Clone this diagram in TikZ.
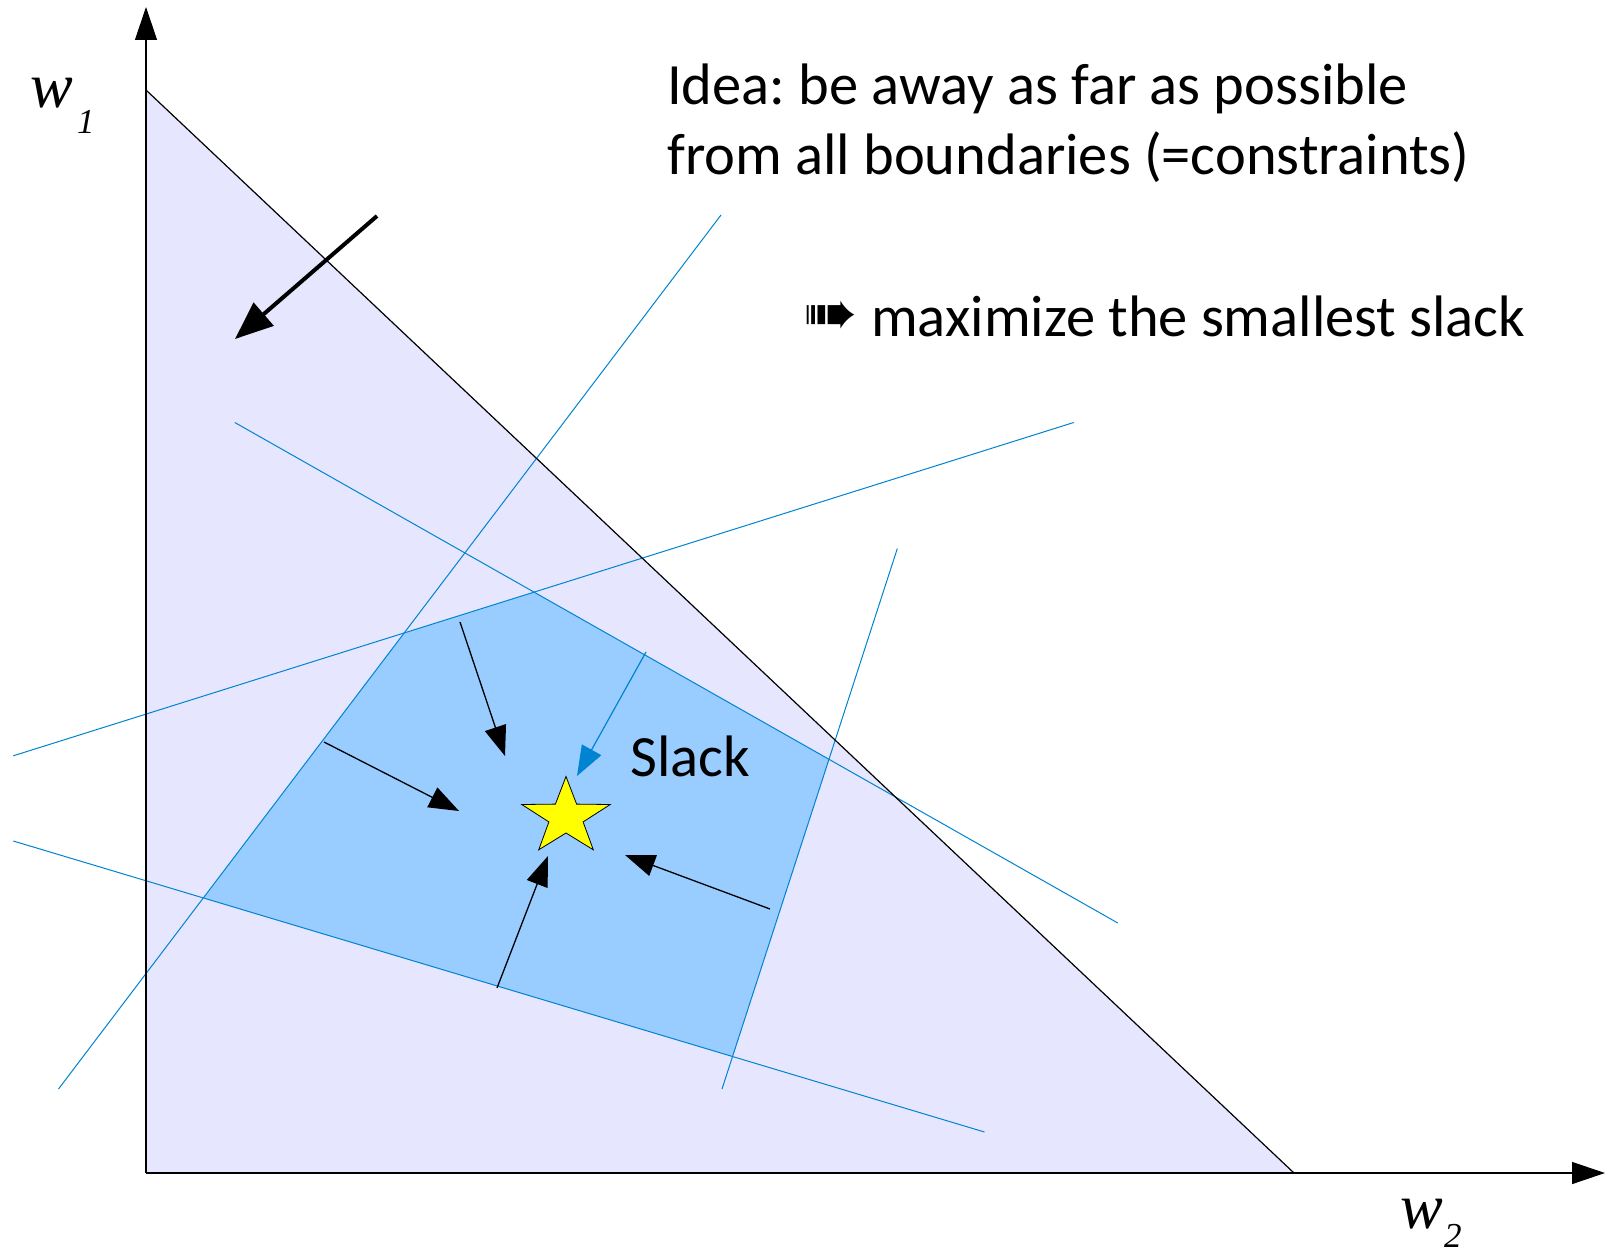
\documentclass[tikz,border=0pt]{standalone}
\usepackage{fontspec}
\setmainfont{Carlito}
\newfontfamily\timesfont{Liberation Serif}
\newfontfamily\symfont{DejaVu Sans}
\usetikzlibrary{arrows.meta}
\definecolor{lav}{RGB}{230,230,255}
\definecolor{polyblue}{RGB}{153,204,255}
\definecolor{lineblue}{RGB}{0,132,209}
\definecolor{staryellow}{RGB}{255,255,0}
\frenchspacing
\begin{document}
\begin{tikzpicture}[x=1pt,y=-1pt,
  bline/.style={lineblue, line width=1pt},
  axisline/.style={black, line width=1.3pt, -{Triangle[length=33pt,width=22pt]}},
  slackarrow/.style={black, line width=1.3pt, -{Triangle[length=30pt,width=22pt]}},
  blueslack/.style={lineblue, line width=1.2pt, -{Triangle[length=30pt,width=22pt]}},
  bigarrow/.style={black, line width=4pt, -{Triangle[length=38pt,width=30pt]}},
  lbl/.style={inner sep=0pt, anchor=base west, font=\fontsize{58.5}{70}\selectfont},
  axlbl/.style={inner sep=0pt, anchor=base west, font=\timesfont\itshape\fontsize{64}{64}\selectfont},
  sublbl/.style={inner sep=0pt, anchor=base west, font=\timesfont\itshape\fontsize{35}{35}\selectfont},
]
\useasboundingbox (0,0) rectangle (1608,1255);
\fill[white] (0,0) rectangle (1608,1255);
% feasible triangle
\coordinate (O) at (146,1173);
\coordinate (T) at (146,90);
\coordinate (R) at (1294,1173);
\fill[lav] (O) -- (T) -- (R) -- cycle;
% constraint lines
\coordinate (L1a) at (58.5,1089);  \coordinate (L1b) at (721,215);
\coordinate (L2a) at (234.8,422.5); \coordinate (L2b) at (1117.8,923);
\coordinate (L3a) at (13.3,755.8); \coordinate (L3b) at (1073.7,422.5);
\coordinate (L4a) at (13.3,841);   \coordinate (L4b) at (984.5,1132);
\coordinate (L5a) at (722,1089);   \coordinate (L5b) at (897.3,548.6);
\coordinate (P1) at (intersection of L1a--L1b and L3a--L3b);
\coordinate (P2) at (intersection of L3a--L3b and L2a--L2b);
\coordinate (P3) at (intersection of L2a--L2b and L5a--L5b);
\coordinate (P4) at (intersection of L5a--L5b and L4a--L4b);
\coordinate (P5) at (intersection of L4a--L4b and L1a--L1b);
\fill[polyblue] (P1) -- (P2) -- (P3) -- (P4) -- (P5) -- cycle;
\draw[bline] (L1a) -- (L1b);
\draw[bline] (L2a) -- (L2b);
\draw[bline] (L3a) -- (L3b);
\draw[bline] (L4a) -- (L4b);
\draw[bline] (L5a) -- (L5b);
\draw[black, line width=1.2pt] (T) -- (R);
% axes
\coordinate (Ytip) at (146,7);
\coordinate (Xtip) at (1605,1173);
\draw[axisline] (O) -- (Ytip);
\draw[axisline] (O) -- (Xtip);
% big arrow
\coordinate (BAs) at (377,216);
\coordinate (BAe) at (235,339);
\draw[bigarrow] (BAs) -- (BAe);
% star
\fill[staryellow, draw=black, line width=0.8pt]
  (566,776.5) -- (576.6,804.1) -- (610.2,804.5) -- (583.1,821.9) -- (593.3,849.8)
  -- (566,833) -- (538.7,849.8) -- (548.9,821.9) -- (521.8,804.5) -- (555.4,804.1) -- cycle;
% slack arrows
\coordinate (A1s) at (460,622);  \coordinate (A1e) at (505,756);
\coordinate (A2s) at (324,742);  \coordinate (A2e) at (459,811);
\coordinate (A3s) at (497,988);  \coordinate (A3e) at (548,856);
\coordinate (A4s) at (770,909);  \coordinate (A4e) at (625,855);
\coordinate (B1s) at (646,652);  \coordinate (B1e) at (577,776);
\draw[slackarrow] (A1s) -- (A1e);
\draw[slackarrow] (A2s) -- (A2e);
\draw[slackarrow] (A3s) -- (A3e);
\draw[slackarrow] (A4s) -- (A4e);
\draw[blueslack] (B1s) -- (B1e);
% texts
\node[lbl] (slack) at (630,776) {Slack};
\node[lbl] (idea1) at (667,104) {Idea: be away as far as possible};
\node[lbl] (idea2) at (667,174) {from all boundaries (=constraints)};
\node[inner sep=0pt, anchor=base west, font=\symfont\fontsize{65}{65}\selectfont] (impl) at (803,335) {➠};
\node[lbl] (maxi) at (871,336) {maximize the smallest slack};
\node[axlbl] (w1) at (30,107) {w};
\node[sublbl] (w1s) at (77,133) {1};
\node[axlbl] (w2) at (1400,1228) {w};
\node[sublbl] (w2s) at (1444,1247) {2};
\end{tikzpicture}
\end{document}
